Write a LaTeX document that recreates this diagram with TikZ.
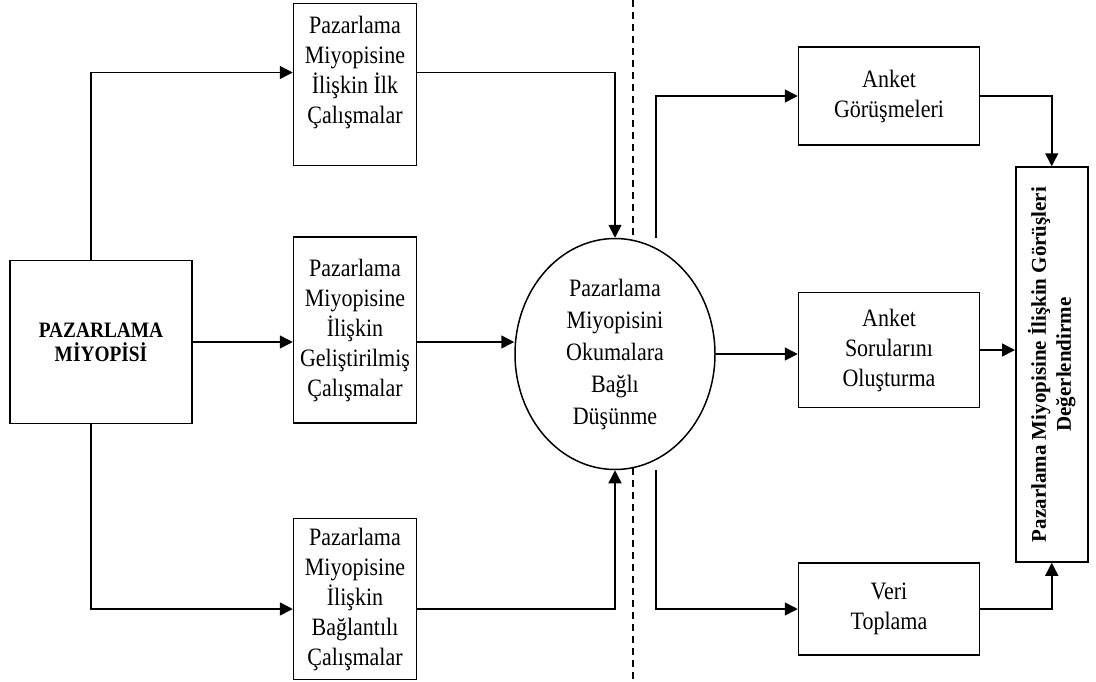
\documentclass[tikz,border=0pt]{standalone}
\usepackage{fontspec}
\setmainfont[FakeStretch=0.88]{Liberation Serif}
\newfontfamily\upserif{Liberation Serif}
\usetikzlibrary{shapes.geometric, arrows.meta, positioning}

\begin{document}
\begin{tikzpicture}[
  b/.style={rectangle, draw, line width=1.5pt, align=center, inner sep=1pt},
  c/.style={ellipse, draw, fill=white, line width=1.5pt, align=center, inner sep=0pt},
  arr/.style={-{Triangle[length=13pt, width=13pt]}, line width=1.5pt},
  font=\fontsize{25}{30}\selectfont
]
\useasboundingbox (0pt,0pt) rectangle (1096pt,-681pt);
% dashed divider
\coordinate (top) at (633pt,0pt);
\coordinate (bot) at (633pt,-681pt);
\draw[line width=1.3pt, dash pattern=on 7pt off 5pt] (top) -- (bot);
% left side
\node[b, minimum width=182pt, minimum height=163pt, font=\bfseries\fontsize{22}{24}\selectfont] (miy) at (101pt,-342pt) {PAZARLAMA\\MİYOPİSİ};
\node[b, minimum width=123pt, minimum height=186pt, right=100pt of miy, yshift=12pt] (gel) {Pazarlama\\Miyopisine\\İlişkin\\Geliştirilmiş\\Çalışmalar};
\node[b, minimum width=123pt, minimum height=162pt, above=70pt of gel] (ilk) {Pazarlama\\Miyopisine\\İlişkin İlk\\Çalışmalar\\\mbox{}};
\node[b, minimum width=123pt, minimum height=161pt, below=94pt of gel] (bag) {Pazarlama\\Miyopisine\\İlişkin\\Bağlantılı\\Çalışmalar};
\node[c, minimum width=200pt, minimum height=231pt, right=97pt of gel, yshift=-24pt, font=\fontsize{25}{32}\selectfont] (circ) {Pazarlama\\Miyopisini\\Okumalara\\Bağlı\\Düşünme};
% right side
\node[b, minimum width=181pt, minimum height=115pt, right=82pt of circ, yshift=4pt] (ank2) {Anket\\Sorularını\\Oluşturma};
\node[b, minimum width=181pt, minimum height=98pt, above=146pt of ank2] (ank1) {Anket\\Görüşmeleri};
\node[b, minimum width=181pt, minimum height=92pt, below=154pt of ank2] (veri) {Veri\\Toplama};
\node[b, rotate=90, anchor=north, minimum width=395pt, minimum height=72pt, font=\upserif\bfseries\fontsize{21}{25}\selectfont] (deg) at (1015pt,-364.5pt) {Pazarlama Miyopisine İlişkin Görüşleri\\Değerlendirme};
% connectors
\draw[arr] ([xshift=-10pt]miy.north) |- ([yshift=12pt]ilk.west);
\draw[arr] (miy.east) -- (miy.east -| gel.west);
\draw[arr] ([xshift=-10pt]miy.south) |- ([yshift=-10pt]bag.west);
\draw[arr] ([yshift=12pt]ilk.east) -| (circ.north);
\draw[arr] (miy.east -| gel.east) -- (miy.east -| circ.west);
\draw[arr] ([yshift=-10pt]bag.east) -| (circ.south);
\draw[arr] ([xshift=41pt]circ.north) |- (ank1);
\draw[arr] (circ.east) -- (circ.east -| ank2.west);
\draw[arr] ([xshift=41pt]circ.south) |- (veri);
\draw[arr] (ank1) -| (deg);
\draw[arr] (ank2) -- (ank2 -| deg.north);
\draw[arr] (veri) -| (deg);
\end{tikzpicture}
\end{document}
